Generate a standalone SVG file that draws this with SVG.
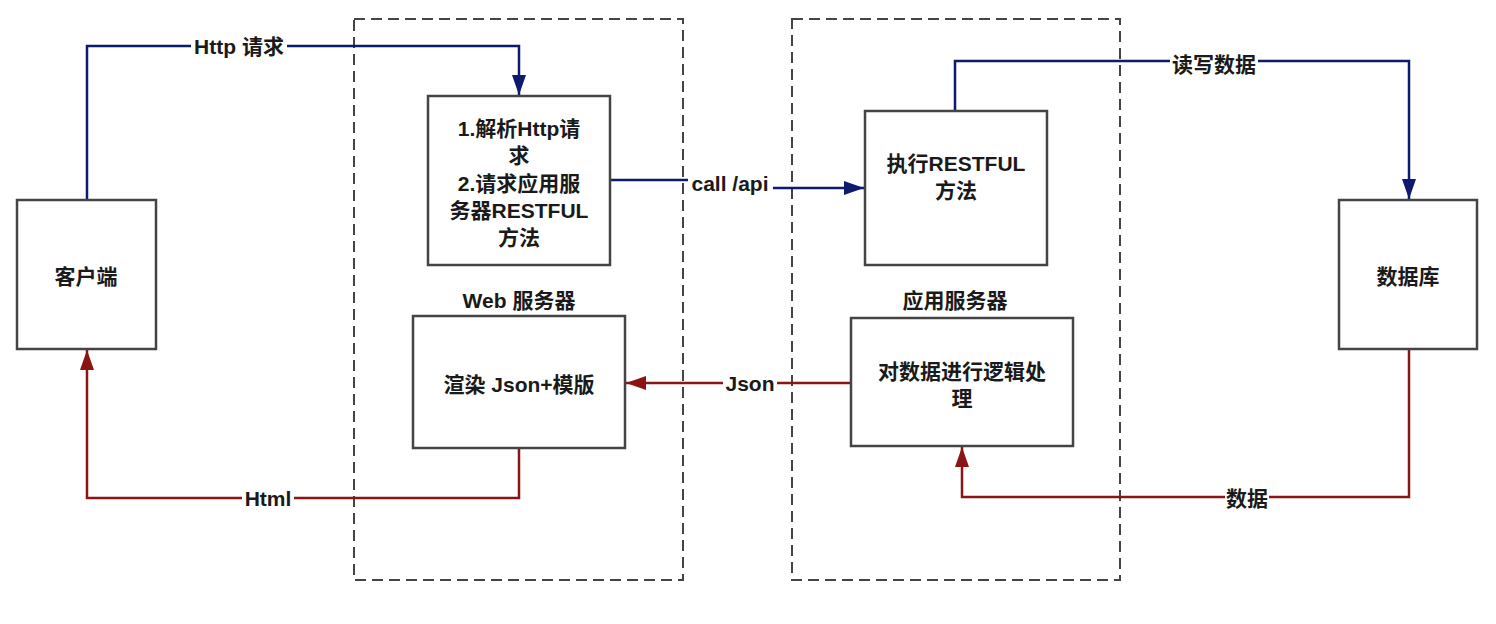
<svg xmlns="http://www.w3.org/2000/svg" width="1496" height="624" viewBox="0 0 1496 624">
<style>
text{font-family:"Liberation Sans","Noto Sans CJK SC",sans-serif;font-weight:bold;font-size:21px;fill:#1a1a1a;text-anchor:middle;dominant-baseline:central}
.box{fill:#fff;stroke:#444;stroke-width:2.5}
.grp{fill:none;stroke:#444;stroke-width:2;stroke-dasharray:11 6}
.blue{fill:none;stroke:#0d1a6e;stroke-width:2.5}
.red{fill:none;stroke:#8b1515;stroke-width:2.5}
.bg{fill:#fff}
</style>
<defs>
<marker id="abL" viewBox="0 0 20 14" refX="20" refY="7" markerWidth="20" markerHeight="14" markerUnits="userSpaceOnUse" orient="auto"><path d="M0,0 L20,7 L0,14 z" fill="#0d1a6e"/></marker>
<marker id="arL" viewBox="0 0 20 14" refX="20" refY="7" markerWidth="20" markerHeight="14" markerUnits="userSpaceOnUse" orient="auto"><path d="M0,0 L20,7 L0,14 z" fill="#8b1515"/></marker>
</defs>
<rect width="1496" height="624" fill="#fff"/>
<g id="web-server-group">
<rect class="grp" x="354" y="19" width="329" height="561"/>
<text x="519" y="300">Web 服务器</text>
</g>
<g id="app-server-group">
<rect class="grp" x="792" y="19" width="328" height="561"/>
<text x="955" y="300">应用服务器</text>
</g>
<g id="connectors">
<path class="blue" d="M87,200 V46 H519 V95" marker-end="url(#abL)"/>
<rect class="bg" x="191" y="34" width="96" height="26"/>
<text x="239" y="46">Http 请求</text>
<path class="blue" d="M610,180 H730 V188 H864" marker-end="url(#abL)"/>
<rect class="bg" x="688" y="168" width="85" height="30"/>
<text x="730" y="183">call /api</text>
<path class="blue" d="M955,111 V61 H1409 V199" marker-end="url(#abL)"/>
<rect class="bg" x="1170" y="50" width="88" height="28"/>
<text x="1214" y="64">读写数据</text>
<path class="red" d="M851,383 H626" marker-end="url(#arL)"/>
<rect class="bg" x="723" y="370" width="54" height="26"/>
<text x="750" y="383">Json</text>
<path class="red" d="M519,448 V498 H87 V350" marker-end="url(#arL)"/>
<rect class="bg" x="242" y="485" width="52" height="26"/>
<text x="268" y="498">Html</text>
<path class="red" d="M1409,349 V497 H962 V447" marker-end="url(#arL)"/>
<rect class="bg" x="1225" y="484" width="44" height="28"/>
<text x="1247" y="498">数据</text>
</g>
<g id="client">
<rect class="box" x="17" y="200" width="139" height="149"/>
<text x="86" y="276">客户端</text>
</g>
<g id="parse-request">
<rect class="box" x="428" y="96" width="182" height="169"/>
<text x="519" y="128">1.解析Http请</text>
<text x="519" y="155">求</text>
<text x="519" y="183">2.请求应用服</text>
<text x="519" y="210">务器RESTFUL</text>
<text x="519" y="237">方法</text>
</g>
<g id="render">
<rect class="box" x="413" y="316" width="212" height="132"/>
<text x="519" y="384">渲染 Json+模版</text>
</g>
<g id="exec-restful">
<rect class="box" x="865" y="111" width="182" height="154"/>
<text x="956" y="163">执行RESTFUL</text>
<text x="956" y="190">方法</text>
</g>
<g id="logic">
<rect class="box" x="851" y="318" width="222" height="128"/>
<text x="962" y="371">对数据进行逻辑处</text>
<text x="962" y="398">理</text>
</g>
<g id="database">
<rect class="box" x="1339" y="200" width="138" height="149"/>
<text x="1408" y="276">数据库</text>
</g>
</svg>
